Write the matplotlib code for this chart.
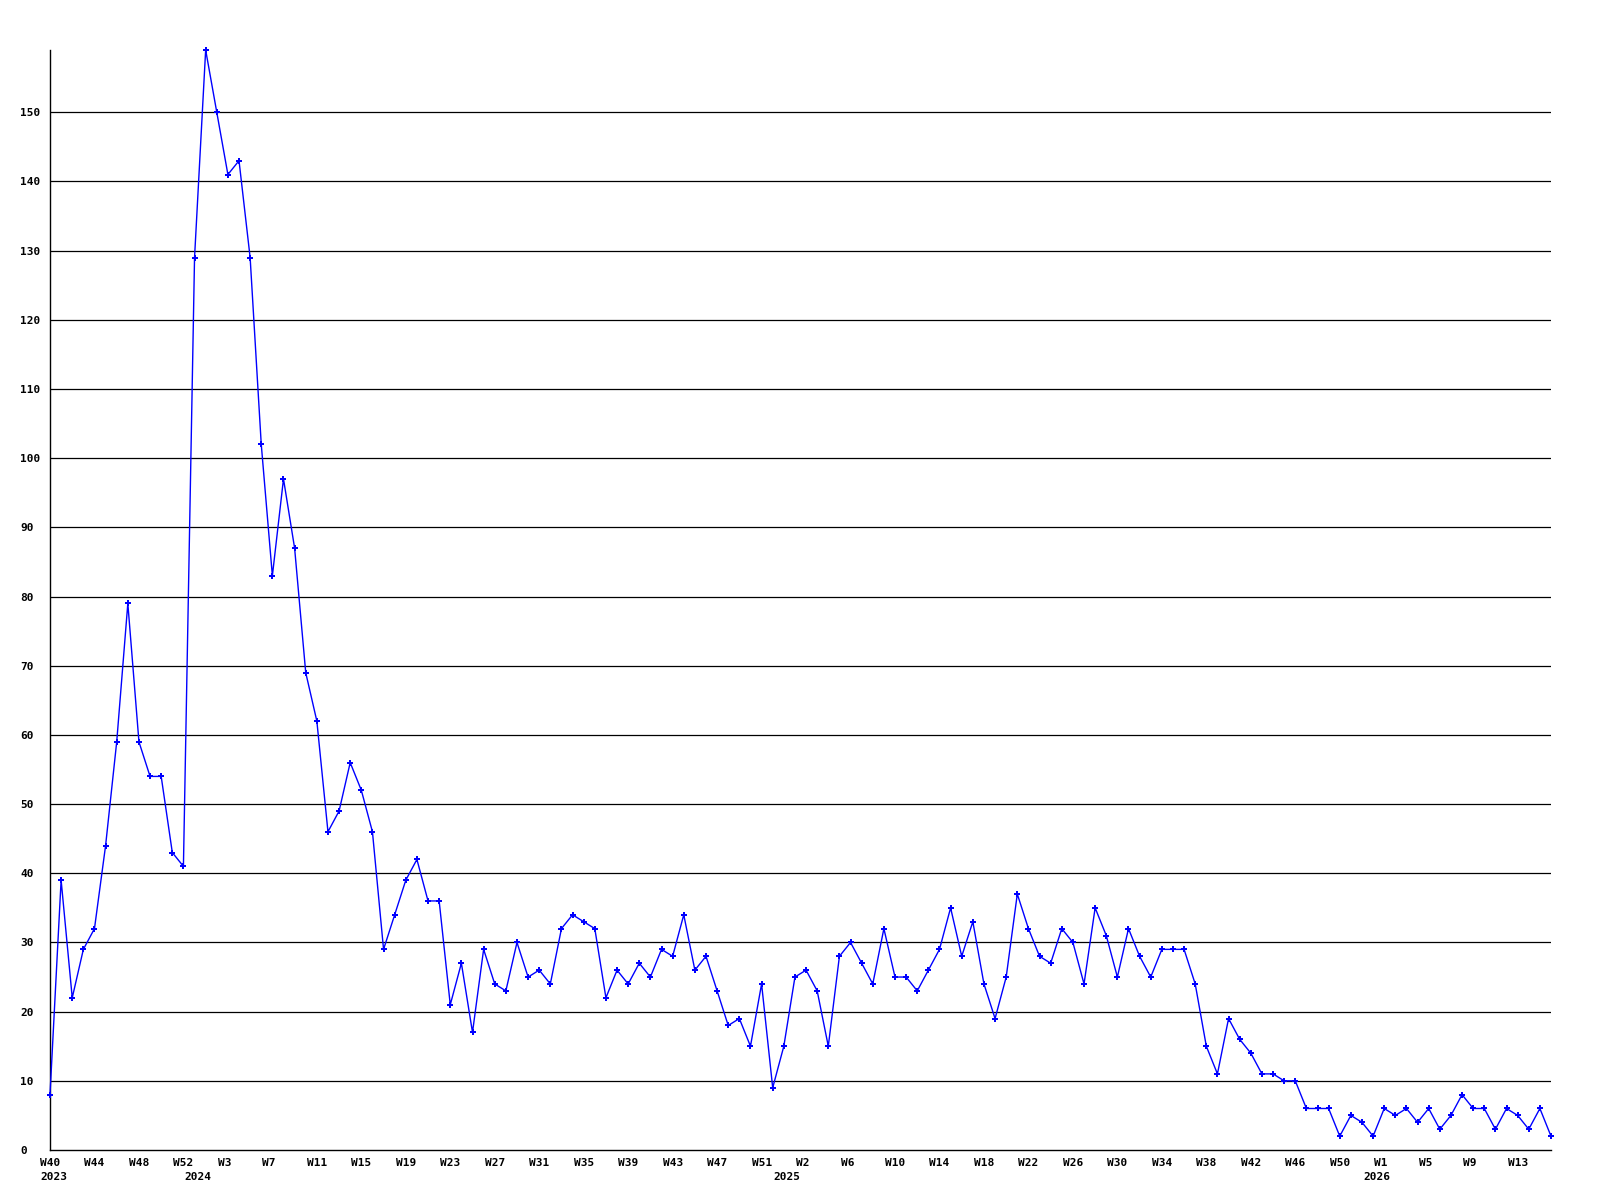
import matplotlib
matplotlib.use("Agg")
import matplotlib.pyplot as plt
import matplotlib.transforms as mtransforms
import numpy as np

# weekly counts, W40 2023 .. W16 2026
counts = [8, 39, 22, 29, 32, 44, 59, 79, 59, 54, 54, 43, 41, 129, 159, 150,
          141, 143, 129, 102, 83, 97, 87, 69, 62, 46, 49, 56, 52, 46, 29, 34,
          39, 42, 36, 36, 21, 27, 17, 29, 24, 23, 30, 25, 26, 24, 32, 34,
          33, 32, 22, 26, 24, 27, 25, 29, 28, 34, 26, 28, 23, 18, 19, 15,
          24, 9, 15, 25, 26, 23, 15, 28, 30, 27, 24, 32, 25, 25, 23, 26,
          29, 35, 28, 33, 24, 19, 25, 37, 32, 28, 27, 32, 30, 24, 35, 31,
          25, 32, 28, 25, 29, 29, 29, 24, 15, 11, 19, 16, 14, 11, 11, 10,
          10, 6, 6, 6, 2, 5, 4, 2, 6, 5, 6, 4, 6, 3, 5, 8,
          6, 6, 3, 6, 5, 3, 6, 2]

week_labels = ["W40", "W44", "W48", "W52", "W3", "W7", "W11", "W15", "W19",
               "W23", "W27", "W31", "W35", "W39", "W43", "W47", "W51", "W2",
               "W6", "W10", "W14", "W18", "W22", "W26", "W30", "W34", "W38",
               "W42", "W46", "W50", "W1", "W5", "W9", "W13"]
year_labels = ["2023", "2024", "2025", "2026"]
year_pos = [0, 13, 66, 119]
y_ticks = list(range(0, 151, 10))

font = dict(family="DejaVu Sans Mono", weight="bold", size=8)

fig = plt.figure(figsize=(16, 12), dpi=100)
ax = fig.add_axes([50 / 1600, 50 / 1200, 1501 / 1600, 1100 / 1200])

x = np.arange(len(counts))
ax.plot(x, counts, color="#0000ff", lw=1.0, marker="P", ms=5,
        mec="#0000ff", mfc="#0000ff", mew=0, clip_on=False, zorder=3)

ax.set_xlim(0, len(counts) - 1)
ax.set_ylim(0, 159)

# horizontal grid lines
for v in y_ticks[1:]:
    ax.axhline(v, color="black", lw=0.9, zorder=1)

for s in ["top", "right"]:
    ax.spines[s].set_visible(False)
for s in ["left", "bottom"]:
    ax.spines[s].set_linewidth(1.0)
    ax.spines[s].set_color("black")

# y labels, left aligned at the figure edge
ax.set_yticks(y_ticks, labels=[str(v) for v in y_ticks])
ax.tick_params(axis="y", length=0, pad=21.6)
for lbl in ax.get_yticklabels():
    lbl.set_horizontalalignment("left")
    lbl.set_fontproperties(matplotlib.font_manager.FontProperties(**font))

# week labels and year labels below
ax.xaxis.remove_overlapping_locs = False
shift = mtransforms.ScaledTranslation(-10 / 100, 0, fig.dpi_scale_trans)
ax.set_xticks(np.arange(0, len(week_labels) * 4, 4), labels=week_labels)
ax.set_xticks(year_pos, labels=year_labels, minor=True)
ax.tick_params(axis="x", which="major", length=0, pad=6)
ax.tick_params(axis="x", which="minor", length=0, pad=16)
for lbl in ax.get_xticklabels() + ax.get_xticklabels(minor=True):
    lbl.set_horizontalalignment("left")
    lbl.set_fontproperties(matplotlib.font_manager.FontProperties(**font))
    lbl.set_transform(lbl.get_transform() + shift)

fig.savefig("out.png", dpi=100, facecolor="white")
